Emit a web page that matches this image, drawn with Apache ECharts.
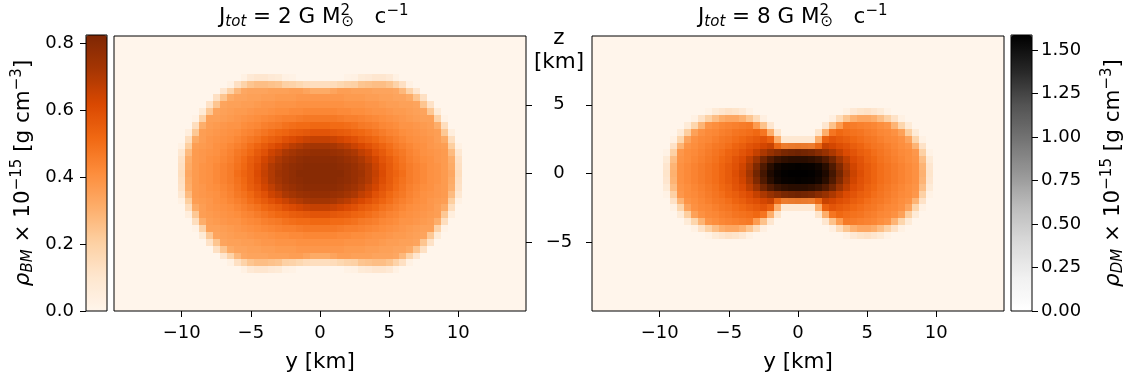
<!DOCTYPE html>
<html><head><meta charset="utf-8">
<script src="https://cdn.jsdelivr.net/npm/echarts@6/dist/echarts.min.js"></script>
<style>html,body{margin:0;padding:0;background:#fff}#c{width:1123px;height:375px}</style>
</head><body><div id="c"></div>
<script>
// ---- data ----
const yKm = [-10,-9.5,-9,-8.5,-8,-7.5,-7,-6.5,-6,-5.5,-5,-4.5,-4,-3.5,-3,-2.5,-2,-1.5,-1,-0.5,0,0.5,1,1.5,2,2.5,3,3.5,4,4.5,5,5.5,6,6.5,7,7.5,8,8.5,9,9.5,10];
const zKmJ2 = [7,6.5,6,5.5,5,4.5,4,3.5,3,2.5,2,1.5,1,0.5,0,-0.5,-1,-1.5,-2,-2.5,-3,-3.5,-4,-4.5,-5,-5.5,-6,-6.5,-7];
const rhoBM_J2 = [
[0,0,0,0,0,0,0,0,0,0.03,0.08,0.10,0.10,0.08,0.07,0.03,0.02,0,0,0,0,0,0,0,0.02,0.03,0.07,0.08,0.10,0.10,0.08,0.03,0,0,0,0,0,0,0,0,0],
[0,0,0,0,0,0,0,0.03,0.13,0.19,0.24,0.26,0.26,0.25,0.24,0.20,0.19,0.17,0.15,0.14,0.14,0.14,0.15,0.17,0.19,0.20,0.24,0.25,0.26,0.26,0.24,0.19,0.13,0.03,0,0,0,0,0,0,0],
[0,0,0,0,0,0,0.10,0.19,0.28,0.33,0.34,0.34,0.34,0.35,0.35,0.35,0.36,0.36,0.34,0.32,0.32,0.32,0.34,0.36,0.36,0.35,0.35,0.35,0.34,0.34,0.34,0.33,0.28,0.19,0.10,0,0,0,0,0,0],
[0,0,0,0,0,0.13,0.24,0.32,0.34,0.34,0.35,0.35,0.36,0.36,0.37,0.37,0.37,0.38,0.38,0.38,0.38,0.38,0.38,0.38,0.37,0.37,0.37,0.36,0.36,0.35,0.35,0.34,0.34,0.32,0.24,0.13,0,0,0,0,0],
[0,0,0,0,0.12,0.24,0.34,0.35,0.35,0.36,0.36,0.37,0.38,0.38,0.39,0.39,0.39,0.40,0.40,0.40,0.40,0.40,0.40,0.40,0.39,0.39,0.39,0.38,0.38,0.37,0.36,0.36,0.35,0.35,0.34,0.24,0.12,0,0,0,0],
[0,0,0,0.07,0.23,0.34,0.35,0.36,0.37,0.37,0.38,0.39,0.39,0.40,0.41,0.41,0.42,0.42,0.43,0.43,0.43,0.43,0.43,0.42,0.42,0.41,0.41,0.40,0.39,0.39,0.38,0.37,0.37,0.36,0.35,0.34,0.23,0.07,0,0,0],
[0,0,0.02,0.19,0.35,0.35,0.36,0.37,0.38,0.39,0.40,0.41,0.42,0.43,0.44,0.45,0.45,0.46,0.47,0.47,0.47,0.47,0.47,0.46,0.45,0.45,0.44,0.43,0.42,0.41,0.40,0.39,0.38,0.37,0.36,0.35,0.35,0.19,0.02,0,0],
[0,0,0.14,0.31,0.36,0.37,0.38,0.39,0.39,0.41,0.42,0.43,0.45,0.46,0.47,0.49,0.50,0.51,0.51,0.52,0.52,0.52,0.51,0.51,0.50,0.49,0.47,0.46,0.45,0.43,0.42,0.41,0.39,0.39,0.38,0.37,0.36,0.31,0.14,0,0],
[0,0.05,0.23,0.36,0.37,0.38,0.39,0.40,0.41,0.43,0.44,0.46,0.48,0.50,0.52,0.53,0.55,0.56,0.57,0.58,0.58,0.58,0.57,0.56,0.55,0.53,0.52,0.50,0.48,0.46,0.44,0.43,0.41,0.40,0.39,0.38,0.37,0.36,0.23,0.05,0],
[0,0.14,0.32,0.36,0.38,0.39,0.40,0.41,0.43,0.45,0.47,0.49,0.52,0.54,0.56,0.59,0.61,0.63,0.65,0.66,0.66,0.66,0.65,0.63,0.61,0.59,0.56,0.54,0.52,0.49,0.47,0.45,0.43,0.41,0.40,0.39,0.38,0.36,0.32,0.14,0],
[0.03,0.21,0.36,0.37,0.38,0.40,0.41,0.43,0.45,0.47,0.50,0.53,0.56,0.59,0.62,0.65,0.68,0.70,0.72,0.73,0.73,0.73,0.72,0.70,0.68,0.65,0.62,0.59,0.56,0.53,0.50,0.47,0.45,0.43,0.41,0.40,0.38,0.37,0.36,0.21,0.03],
[0.09,0.27,0.37,0.38,0.39,0.40,0.42,0.44,0.47,0.49,0.52,0.56,0.59,0.64,0.67,0.71,0.73,0.75,0.76,0.77,0.77,0.77,0.76,0.75,0.73,0.71,0.67,0.64,0.59,0.56,0.52,0.49,0.47,0.44,0.42,0.40,0.39,0.38,0.37,0.27,0.09],
[0.12,0.31,0.37,0.38,0.40,0.41,0.43,0.45,0.48,0.51,0.55,0.58,0.63,0.67,0.71,0.74,0.76,0.78,0.79,0.79,0.79,0.79,0.79,0.78,0.76,0.74,0.71,0.67,0.63,0.58,0.55,0.51,0.48,0.45,0.43,0.41,0.40,0.38,0.37,0.31,0.12],
[0.13,0.32,0.37,0.39,0.40,0.42,0.44,0.46,0.49,0.52,0.56,0.60,0.65,0.70,0.73,0.76,0.78,0.79,0.80,0.80,0.80,0.80,0.80,0.79,0.78,0.76,0.73,0.70,0.65,0.60,0.56,0.52,0.49,0.46,0.44,0.42,0.40,0.39,0.37,0.32,0.13],
[0.14,0.33,0.37,0.39,0.40,0.42,0.44,0.46,0.50,0.53,0.56,0.61,0.66,0.70,0.74,0.76,0.78,0.80,0.80,0.80,0.80,0.80,0.80,0.80,0.78,0.76,0.74,0.70,0.66,0.61,0.56,0.53,0.50,0.46,0.44,0.42,0.40,0.39,0.37,0.33,0.14],
[0.13,0.32,0.37,0.39,0.40,0.42,0.44,0.46,0.49,0.52,0.56,0.60,0.65,0.70,0.73,0.76,0.78,0.79,0.80,0.80,0.80,0.80,0.80,0.79,0.78,0.76,0.73,0.70,0.65,0.60,0.56,0.52,0.49,0.46,0.44,0.42,0.40,0.39,0.37,0.32,0.13],
[0.12,0.31,0.37,0.38,0.40,0.41,0.43,0.45,0.48,0.51,0.55,0.58,0.63,0.67,0.71,0.74,0.76,0.78,0.79,0.79,0.79,0.79,0.79,0.78,0.76,0.74,0.71,0.67,0.63,0.58,0.55,0.51,0.48,0.45,0.43,0.41,0.40,0.38,0.37,0.31,0.12],
[0.09,0.27,0.37,0.38,0.39,0.40,0.42,0.44,0.47,0.49,0.52,0.56,0.59,0.64,0.67,0.71,0.73,0.75,0.76,0.77,0.77,0.77,0.76,0.75,0.73,0.71,0.67,0.64,0.59,0.56,0.52,0.49,0.47,0.44,0.42,0.40,0.39,0.38,0.37,0.27,0.09],
[0.03,0.21,0.36,0.37,0.38,0.40,0.41,0.43,0.45,0.47,0.50,0.53,0.56,0.59,0.62,0.65,0.68,0.70,0.72,0.73,0.73,0.73,0.72,0.70,0.68,0.65,0.62,0.59,0.56,0.53,0.50,0.47,0.45,0.43,0.41,0.40,0.38,0.37,0.36,0.21,0.03],
[0,0.14,0.32,0.36,0.38,0.39,0.40,0.41,0.43,0.45,0.47,0.49,0.52,0.54,0.56,0.59,0.61,0.63,0.65,0.66,0.66,0.66,0.65,0.63,0.61,0.59,0.56,0.54,0.52,0.49,0.47,0.45,0.43,0.41,0.40,0.39,0.38,0.36,0.32,0.14,0],
[0,0.05,0.23,0.36,0.37,0.38,0.39,0.40,0.41,0.43,0.44,0.46,0.48,0.50,0.52,0.53,0.55,0.56,0.57,0.58,0.58,0.58,0.57,0.56,0.55,0.53,0.52,0.50,0.48,0.46,0.44,0.43,0.41,0.40,0.39,0.38,0.37,0.36,0.23,0.05,0],
[0,0,0.14,0.31,0.36,0.37,0.38,0.39,0.39,0.41,0.42,0.43,0.45,0.46,0.47,0.49,0.50,0.51,0.51,0.52,0.52,0.52,0.51,0.51,0.50,0.49,0.47,0.46,0.45,0.43,0.42,0.41,0.39,0.39,0.38,0.37,0.36,0.31,0.14,0,0],
[0,0,0.02,0.19,0.35,0.35,0.36,0.37,0.38,0.39,0.40,0.41,0.42,0.43,0.44,0.45,0.45,0.46,0.47,0.47,0.47,0.47,0.47,0.46,0.45,0.45,0.44,0.43,0.42,0.41,0.40,0.39,0.38,0.37,0.36,0.35,0.35,0.19,0.02,0,0],
[0,0,0,0.07,0.23,0.34,0.35,0.36,0.37,0.37,0.38,0.39,0.39,0.40,0.41,0.41,0.42,0.42,0.43,0.43,0.43,0.43,0.43,0.42,0.42,0.41,0.41,0.40,0.39,0.39,0.38,0.37,0.37,0.36,0.35,0.34,0.23,0.07,0,0,0],
[0,0,0,0,0.12,0.24,0.34,0.35,0.35,0.36,0.36,0.37,0.38,0.38,0.39,0.39,0.39,0.40,0.40,0.40,0.40,0.40,0.40,0.40,0.39,0.39,0.39,0.38,0.38,0.37,0.36,0.36,0.35,0.35,0.34,0.24,0.12,0,0,0,0],
[0,0,0,0,0,0.13,0.24,0.32,0.34,0.34,0.35,0.35,0.36,0.36,0.37,0.37,0.37,0.38,0.38,0.38,0.38,0.38,0.38,0.38,0.37,0.37,0.37,0.36,0.36,0.35,0.35,0.34,0.34,0.32,0.24,0.13,0,0,0,0,0],
[0,0,0,0,0,0,0.10,0.19,0.28,0.33,0.34,0.34,0.34,0.35,0.35,0.35,0.36,0.36,0.34,0.32,0.32,0.32,0.34,0.36,0.36,0.35,0.35,0.35,0.34,0.34,0.34,0.33,0.28,0.19,0.10,0,0,0,0,0,0],
[0,0,0,0,0,0,0,0.03,0.13,0.19,0.24,0.26,0.26,0.25,0.24,0.20,0.19,0.17,0.15,0.14,0.14,0.14,0.15,0.17,0.19,0.20,0.24,0.25,0.26,0.26,0.24,0.19,0.13,0.03,0,0,0,0,0,0,0],
[0,0,0,0,0,0,0,0,0,0.03,0.08,0.10,0.10,0.08,0.07,0.03,0.02,0,0,0,0,0,0,0,0.02,0.03,0.07,0.08,0.10,0.10,0.08,0.03,0,0,0,0,0,0,0,0,0]
];
const zKmJ8 = [4.5,4,3.5,3,2.5,2,1.5,1,0.5,0,-0.5,-1,-1.5,-2,-2.5,-3,-3.5,-4,-4.5];
const rhoBM_J8 = [
[0,0,0,0,0,0,0,0.02,0.07,0.10,0.12,0.11,0.08,0.03,0,0,0,0,0,0,0,0,0,0,0,0,0,0.03,0.08,0.11,0.12,0.10,0.07,0.02,0,0,0,0,0,0,0],
[0,0,0,0,0,0.03,0.12,0.20,0.26,0.31,0.33,0.33,0.30,0.24,0.15,0.04,0,0,0,0,0,0,0,0,0,0.04,0.15,0.24,0.30,0.33,0.33,0.31,0.26,0.20,0.12,0.03,0,0,0,0,0],
[0,0,0,0,0.07,0.18,0.29,0.39,0.41,0.43,0.44,0.45,0.46,0.47,0.37,0.25,0.10,0,0,0,0,0,0,0,0.10,0.25,0.37,0.47,0.46,0.45,0.44,0.43,0.41,0.39,0.29,0.18,0.07,0,0,0,0],
[0,0,0,0.07,0.21,0.35,0.40,0.42,0.43,0.45,0.46,0.48,0.49,0.50,0.52,0.48,0.31,0.11,0,0,0,0,0,0.11,0.31,0.48,0.52,0.50,0.49,0.48,0.46,0.45,0.43,0.42,0.40,0.35,0.21,0.07,0,0,0],
[0,0,0.03,0.18,0.34,0.40,0.42,0.43,0.45,0.47,0.48,0.50,0.52,0.54,0.56,0.58,0.54,0.31,0.09,0.09,0.09,0.09,0.09,0.31,0.54,0.58,0.56,0.54,0.52,0.50,0.48,0.47,0.45,0.43,0.42,0.40,0.34,0.18,0.03,0,0],
[0,0,0.12,0.29,0.39,0.41,0.43,0.45,0.47,0.48,0.50,0.53,0.55,0.58,0.60,0.63,0.65,0.51,0.44,0.44,0.45,0.44,0.44,0.51,0.65,0.63,0.60,0.58,0.55,0.53,0.50,0.48,0.47,0.45,0.43,0.41,0.39,0.29,0.12,0,0],
[0,0.02,0.20,0.38,0.41,0.42,0.44,0.46,0.48,0.50,0.53,0.55,0.58,0.61,0.64,0.67,0.69,0.70,0.72,0.73,0.74,0.73,0.72,0.70,0.69,0.67,0.64,0.61,0.58,0.55,0.53,0.50,0.48,0.46,0.44,0.42,0.41,0.38,0.20,0.02,0],
[0,0.07,0.26,0.39,0.41,0.43,0.45,0.47,0.49,0.52,0.54,0.58,0.61,0.64,0.67,0.70,0.73,0.75,0.76,0.77,0.78,0.77,0.76,0.75,0.73,0.70,0.67,0.64,0.61,0.58,0.54,0.52,0.49,0.47,0.45,0.43,0.41,0.39,0.26,0.07,0],
[0,0.10,0.29,0.40,0.42,0.44,0.46,0.48,0.50,0.53,0.56,0.59,0.62,0.66,0.69,0.72,0.75,0.77,0.79,0.80,0.80,0.80,0.79,0.77,0.75,0.72,0.69,0.66,0.62,0.59,0.56,0.53,0.50,0.48,0.46,0.44,0.42,0.40,0.29,0.10,0],
[0,0.11,0.30,0.40,0.42,0.44,0.46,0.48,0.50,0.53,0.56,0.60,0.63,0.67,0.70,0.73,0.76,0.78,0.80,0.81,0.82,0.81,0.80,0.78,0.76,0.73,0.70,0.67,0.63,0.60,0.56,0.53,0.50,0.48,0.46,0.44,0.42,0.40,0.30,0.11,0],
[0,0.10,0.29,0.40,0.42,0.44,0.46,0.48,0.50,0.53,0.56,0.59,0.62,0.66,0.69,0.72,0.75,0.77,0.79,0.80,0.80,0.80,0.79,0.77,0.75,0.72,0.69,0.66,0.62,0.59,0.56,0.53,0.50,0.48,0.46,0.44,0.42,0.40,0.29,0.10,0],
[0,0.07,0.26,0.39,0.41,0.43,0.45,0.47,0.49,0.52,0.54,0.58,0.61,0.64,0.67,0.70,0.73,0.75,0.76,0.77,0.78,0.77,0.76,0.75,0.73,0.70,0.67,0.64,0.61,0.58,0.54,0.52,0.49,0.47,0.45,0.43,0.41,0.39,0.26,0.07,0],
[0,0.02,0.20,0.38,0.41,0.42,0.44,0.46,0.48,0.50,0.53,0.55,0.58,0.61,0.64,0.67,0.69,0.70,0.72,0.73,0.74,0.73,0.72,0.70,0.69,0.67,0.64,0.61,0.58,0.55,0.53,0.50,0.48,0.46,0.44,0.42,0.41,0.38,0.20,0.02,0],
[0,0,0.12,0.29,0.39,0.41,0.43,0.45,0.47,0.48,0.50,0.53,0.55,0.58,0.60,0.63,0.65,0.51,0.44,0.44,0.45,0.44,0.44,0.51,0.65,0.63,0.60,0.58,0.55,0.53,0.50,0.48,0.47,0.45,0.43,0.41,0.39,0.29,0.12,0,0],
[0,0,0.03,0.18,0.34,0.40,0.42,0.43,0.45,0.47,0.48,0.50,0.52,0.54,0.56,0.58,0.54,0.31,0.09,0.09,0.09,0.09,0.09,0.31,0.54,0.58,0.56,0.54,0.52,0.50,0.48,0.47,0.45,0.43,0.42,0.40,0.34,0.18,0.03,0,0],
[0,0,0,0.07,0.21,0.35,0.40,0.42,0.43,0.45,0.46,0.48,0.49,0.50,0.52,0.48,0.31,0.11,0,0,0,0,0,0.11,0.31,0.48,0.52,0.50,0.49,0.48,0.46,0.45,0.43,0.42,0.40,0.35,0.21,0.07,0,0,0],
[0,0,0,0,0.07,0.18,0.29,0.39,0.41,0.43,0.44,0.45,0.46,0.47,0.37,0.25,0.10,0,0,0,0,0,0,0,0.10,0.25,0.37,0.47,0.46,0.45,0.44,0.43,0.41,0.39,0.29,0.18,0.07,0,0,0,0],
[0,0,0,0,0,0.03,0.12,0.20,0.26,0.31,0.33,0.33,0.30,0.24,0.15,0.04,0,0,0,0,0,0,0,0,0,0.04,0.15,0.24,0.30,0.33,0.33,0.31,0.26,0.20,0.12,0.03,0,0,0,0,0],
[0,0,0,0,0,0,0,0.02,0.07,0.10,0.12,0.11,0.08,0.03,0,0,0,0,0,0,0,0,0,0,0,0,0,0.03,0.08,0.11,0.12,0.10,0.07,0.02,0,0,0,0,0,0,0]
];
const yKmDM = [-4,-3.5,-3,-2.5,-2,-1.5,-1,-0.5,0,0.5,1,1.5,2,2.5,3,3.5,4];
const zKmDM = [2,1.5,1,0.5,0,-0.5,-1,-1.5,-2];
const rhoDM_J8 = [
[0,0,0,0,0.02,0.05,0.08,0.10,0.10,0.10,0.08,0.05,0.02,0,0,0,0],
[0,0,0.06,0.16,0.27,0.36,0.43,0.46,0.48,0.46,0.43,0.36,0.27,0.16,0.06,0,0],
[0,0.11,0.30,0.56,0.79,0.98,1.08,1.13,1.14,1.13,1.08,0.98,0.79,0.56,0.30,0.11,0],
[0.05,0.19,0.48,0.82,1.17,1.40,1.49,1.52,1.54,1.52,1.49,1.40,1.17,0.82,0.48,0.19,0.05],
[0.06,0.24,0.56,0.92,1.27,1.47,1.55,1.58,1.58,1.58,1.55,1.47,1.27,0.92,0.56,0.24,0.06],
[0.05,0.19,0.48,0.82,1.17,1.40,1.49,1.52,1.54,1.52,1.49,1.40,1.17,0.82,0.48,0.19,0.05],
[0,0.11,0.30,0.56,0.79,0.98,1.08,1.13,1.14,1.13,1.08,0.98,0.79,0.56,0.30,0.11,0],
[0,0,0.06,0.16,0.27,0.36,0.43,0.46,0.48,0.46,0.43,0.36,0.27,0.16,0.06,0,0],
[0,0,0,0,0.02,0.05,0.08,0.10,0.10,0.10,0.08,0.05,0.02,0,0,0,0]
];
const yTicks = [-10,-5,0,5,10];
const zTicks = [-5,0,5];
const bmTicks = [0,0.2,0.4,0.6,0.8];
const dmTicks = [0,0.25,0.5,0.75,1,1.25,1.5];
const bmMax = 0.825, dmMax = 1.586;
const yRange = [-14.9, 14.9], zRange = [-10, 10];

// ---- helpers ----
const FONT = 'DejaVu Sans';
const ORANGES = ['#fff5eb','#fee6ce','#fdd0a2','#fdae6b','#fd8d3c','#f16913','#d94801','#a63603','#7f2704'];
const GREYS = ['#ffffff','#f0f0f0','#d9d9d9','#bdbdbd','#969696','#737373','#525252','#252525','#000000'];
function cells(ys, zs, grid) {
  const out = [];
  zs.forEach((z, i) => ys.forEach((y, j) => { const v = grid[i][j]; if (v > 0) out.push([y, z, v]); }));
  return out;
}
function cellRenderer(ys, zs) {
  const hy = Math.abs(ys[1] - ys[0]) / 2, hz = Math.abs(zs[1] - zs[0]) / 2;
  return function (params, api) {
    const y = api.value(0), z = api.value(1);
    const a = api.coord([y - hy, z + hz]), b = api.coord([y + hy, z - hz]);
    const x0 = Math.round(a[0]), y0 = Math.round(a[1]), x1 = Math.round(b[0]), y1 = Math.round(b[1]);
    return { type: 'rect', shape: { x: x0, y: y0, width: x1 - x0, height: y1 - y0 }, style: { fill: api.visual('color') } };
  };
}
const minus = v => String(v).replace('-', '\u2212');
const tickStyle = { show: true, length: 6, lineStyle: { color: '#000', width: 1 } };
const lblStyle = { color: '#000', fontFamily: FONT, fontSize: 18 };
const noLine = { show: false, onZero: false };
const RICH = {
  s: { fontSize: 15, fontStyle: 'italic', verticalAlign: 'bottom', lineHeight: 15, fontFamily: FONT, color: '#000' },
  p: { fontSize: 15, verticalAlign: 'top', lineHeight: 15, fontFamily: FONT, color: '#000' },
  p2: { fontSize: 15, verticalAlign: 'top', lineHeight: 15, width: 1, fontFamily: FONT, color: '#000' },
  o: { fontSize: 15, verticalAlign: 'bottom', lineHeight: 15, fontFamily: FONT, color: '#000' },
  i: { fontSize: 21.5, fontStyle: 'italic', fontFamily: FONT, color: '#000' }
};
const bigText = { color: '#000', fontFamily: FONT, fontSize: 21.5, fontWeight: 'normal', lineHeight: 26, rich: RICH };

const plotGrid = (left) => ({ left, top: 36, width: 412, height: 275, show: true, backgroundColor: ORANGES[0], borderColor: '#000', borderWidth: 1, outerBoundsMode: 'none' });
const cbGrid = (left) => ({ left, top: 35, width: 21, height: 276, show: true, backgroundColor: 'transparent', borderColor: '#000', borderWidth: 1, z: 10, outerBoundsMode: 'none' });
const xPlot = (gi) => ({
  type: 'value', gridIndex: gi, min: yRange[0], max: yRange[1], z: 5,
  axisLine: noLine, splitLine: { show: false },
  axisTick: Object.assign({ customValues: yTicks }, tickStyle),
  axisLabel: Object.assign({ customValues: yTicks, formatter: minus, margin: 13 }, lblStyle),
  name: 'y [km]', nameLocation: 'middle', nameGap: 38, nameTextStyle: bigText
});

const option = {
  animation: false,
  backgroundColor: '#fff',
  title: [
    { text: 'J{s|tot} = 2 G M{p2|2}{o|\u2299}   c{p|\u22121}', left: 219, top: 4, textAlign: 'left', padding: 0, textStyle: bigText },
    { text: 'J{s|tot} = 8 G M{p2|2}{o|\u2299}   c{p|\u22121}', left: 698, top: 4, textAlign: 'left', padding: 0, textStyle: bigText },
    { text: 'z\n[km]', left: 559, top: 27, textAlign: 'center', padding: 0, textStyle: { color: '#000', fontFamily: FONT, fontSize: 21.5, fontWeight: 'normal', lineHeight: 23.5 } }
  ],
  grid: [plotGrid(114), plotGrid(592), cbGrid(86), cbGrid(1011)],
  xAxis: [
    xPlot(0), xPlot(1),
    { type: 'value', gridIndex: 2, show: false, min: 0, max: 1, axisLine: noLine },
    { type: 'value', gridIndex: 3, show: false, min: 0, max: 1, axisLine: noLine }
  ],
  yAxis: [
    { type: 'value', gridIndex: 0, min: zRange[0], max: zRange[1], position: 'right', z: 5,
      axisLine: noLine, splitLine: { show: false },
      axisTick: Object.assign({ customValues: zTicks }, tickStyle), axisLabel: { show: false } },
    { type: 'value', gridIndex: 1, min: zRange[0], max: zRange[1], position: 'left', z: 5,
      axisLine: noLine, splitLine: { show: false },
      axisTick: Object.assign({ customValues: zTicks }, tickStyle),
      axisLabel: Object.assign({ customValues: zTicks, formatter: minus, margin: 33, align: 'center' }, lblStyle) },
    { type: 'value', gridIndex: 2, min: 0, max: bmMax, position: 'left', z: 10,
      axisLine: noLine, splitLine: { show: false },
      axisTick: Object.assign({ customValues: bmTicks }, tickStyle),
      axisLabel: Object.assign({ customValues: bmTicks, formatter: v => v.toFixed(1), margin: 12 }, lblStyle),
      name: '{i|\u03c1}{s|BM} \u00d7 10{p|\u221215} [g cm{p|\u22123}]', nameLocation: 'middle', nameRotate: 90, nameGap: 50, nameTextStyle: bigText },
    { type: 'value', gridIndex: 3, min: 0, max: dmMax, position: 'right', z: 10,
      axisLine: noLine, splitLine: { show: false },
      axisTick: Object.assign({ customValues: dmTicks }, tickStyle),
      axisLabel: Object.assign({ customValues: dmTicks, formatter: v => v.toFixed(2), margin: 9 }, lblStyle),
      name: '{i|\u03c1}{s|DM} \u00d7 10{p|\u221215} [g cm{p|\u22123}]', nameLocation: 'middle', nameRotate: 90, nameGap: 68, nameTextStyle: bigText }
  ],
  visualMap: [
    { type: 'continuous', min: 0, max: bmMax, dimension: 2, seriesIndex: [0, 1], inRange: { color: ORANGES },
      orient: 'vertical', left: 86, top: 35, itemWidth: 21, itemHeight: 276, padding: 0, calculable: false, hoverLink: false, z: 2 },
    { type: 'continuous', min: 0, max: dmMax, dimension: 2, seriesIndex: [], inRange: { color: GREYS },
      orient: 'vertical', left: 1011, top: 35, itemWidth: 21, itemHeight: 276, padding: 0, calculable: false, hoverLink: false, z: 2 },
    { type: 'continuous', show: false, min: 0, max: dmMax, dimension: 2, seriesIndex: [2],
      inRange: { color: ['rgba(0,0,0,0)', 'rgba(0,0,0,1)'] } }
  ],
  series: [
    { type: 'custom', name: 'BM J2', xAxisIndex: 0, yAxisIndex: 0, data: cells(yKm, zKmJ2, rhoBM_J2),
      renderItem: cellRenderer(yKm, zKmJ2), encode: { x: 0, y: 1 }, silent: true, z: 2 },
    { type: 'custom', name: 'BM J8', xAxisIndex: 1, yAxisIndex: 1, data: cells(yKm, zKmJ8, rhoBM_J8),
      renderItem: cellRenderer(yKm, zKmJ8), encode: { x: 0, y: 1 }, silent: true, z: 2 },
    { type: 'custom', name: 'DM J8', xAxisIndex: 1, yAxisIndex: 1, data: cells(yKmDM, zKmDM, rhoDM_J8),
      renderItem: cellRenderer(yKmDM, zKmDM), encode: { x: 0, y: 1 }, silent: true, z: 3 }
  ]
};
const chart = echarts.init(document.getElementById('c'), null, { renderer: 'canvas' });
chart.setOption(option);
</script></body></html>
